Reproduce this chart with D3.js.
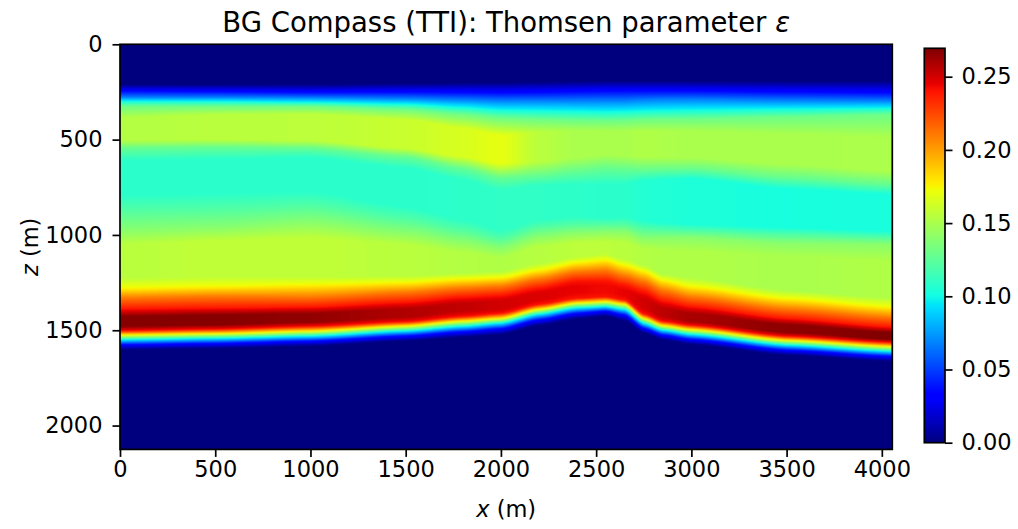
<!DOCTYPE html>
<html>
<head>
<meta charset="utf-8">
<script src="https://cdn.jsdelivr.net/npm/d3@7"></script>
<style>
  body { margin: 0; background: #fff; }
  svg { font-family: "DejaVu Sans", sans-serif; }
</style>
</head>
<body>
<svg id="chart" width="1018" height="529"></svg>
<script>
// colour range of the plot and the colorbar
var vmax = 0.2694;

// model extent (m)
var xExtent = [0, 4055];
var zExtent = [0, 2125];

var xTicks = [0, 500, 1000, 1500, 2000, 2500, 3000, 3500, 4000];
var zTicks = [0, 500, 1000, 1500, 2000];
var cbTicks = [0, 0.05, 0.10, 0.15, 0.20, 0.25];

// lateral positions (m) where the vertical profiles were read
var colX = [0, 500, 1000, 1500, 1800, 2000, 2200, 2400, 2550, 2650, 2750, 2850, 3000, 3500, 4055];

// depth (m) of each profile knot, one row per column of colX
// knots: seabed (0-4), upper band (5-6), cyan band (7-10), lower band (11-13), red layer (14-19), base (20-23)
var columnDepths = [
  [210, 245, 278, 297, 324, 385, 505, 545, 612, 787, 875, 980, 1050, 1225, 1280, 1330, 1390, 1428, 1480, 1503, 1525, 1550, 1576, 1602],
  [210, 248, 278, 298, 324, 370, 500, 540, 605, 780, 870, 965, 1030, 1220, 1272, 1322, 1385, 1420, 1472, 1495, 1518, 1543, 1569, 1595],
  [210, 252, 280, 303, 324, 367, 505, 545, 595, 770, 850, 935, 1015, 1220, 1262, 1325, 1380, 1412, 1458, 1480, 1505, 1531, 1557, 1583],
  [205, 250, 285, 312, 340, 395, 545, 590, 650, 850, 920, 990, 1050, 1215, 1250, 1300, 1355, 1388, 1432, 1456, 1478, 1504, 1530, 1556],
  [202, 252, 292, 328, 365, 440, 590, 650, 710, 920, 975, 1035, 1090, 1200, 1232, 1278, 1328, 1360, 1400, 1428, 1452, 1480, 1508, 1536],
  [200, 254, 297, 341, 385, 480, 625, 700, 765, 975, 1020, 1070, 1120, 1190, 1225, 1268, 1318, 1345, 1390, 1412, 1438, 1463, 1492, 1522],
  [197, 252, 297, 344, 392, 460, 615, 688, 740, 920, 960, 1010, 1060, 1150, 1185, 1230, 1280, 1305, 1340, 1365, 1390, 1416, 1445, 1475],
  [194, 248, 297, 347, 398, 452, 595, 665, 735, 905, 945, 990, 1040, 1115, 1145, 1192, 1242, 1268, 1303, 1333, 1357, 1383, 1411, 1440],
  [192, 245, 297, 350, 400, 455, 580, 650, 735, 910, 945, 985, 1035, 1100, 1132, 1185, 1242, 1266, 1300, 1325, 1350, 1376, 1400, 1426],
  [192, 245, 297, 348, 398, 455, 585, 655, 735, 905, 945, 985, 1040, 1128, 1160, 1213, 1265, 1290, 1318, 1342, 1364, 1391, 1420, 1450],
  [192, 245, 292, 345, 392, 455, 590, 660, 715, 925, 970, 1020, 1070, 1158, 1190, 1242, 1298, 1335, 1385, 1415, 1438, 1464, 1490, 1515],
  [192, 245, 290, 343, 391, 455, 593, 657, 710, 935, 975, 1017, 1078, 1205, 1238, 1290, 1348, 1385, 1430, 1454, 1476, 1500, 1525, 1550],
  [192, 245, 289, 341, 390, 455, 595, 655, 705, 945, 980, 1015, 1085, 1225, 1272, 1325, 1378, 1412, 1455, 1475, 1497, 1522, 1548, 1574],
  [192, 250, 295, 336, 380, 470, 630, 700, 760, 960, 1000, 1045, 1110, 1290, 1335, 1388, 1440, 1470, 1512, 1532, 1553, 1578, 1604, 1630],
  [192, 254, 297, 332, 367, 490, 665, 735, 787, 980, 1015, 1050, 1137, 1330, 1380, 1432, 1485, 1512, 1548, 1564, 1586, 1611, 1637, 1663]
];

// epsilon of the knots shared by all columns (null = taken from the band arrays)
var knotEps = [0, 0.035, 0.068, 0.098, 0.13, null, null, 0.128, null, null, 0.122, 0.14,
               null, null, 0.175, 0.21, 0.24, null, null, 0.24, 0.175, 0.098, 0.035, 0];

// epsilon of the bands, per column
var upperBandEps = [0.153, 0.155, 0.156, 0.160, 0.165, 0.170, 0.155, 0.150, 0.150, 0.150, 0.152, 0.151, 0.150, 0.150, 0.151];
var cyanBandEps  = [0.108, 0.108, 0.108, 0.108, 0.109, 0.110, 0.110, 0.109, 0.108, 0.108, 0.106, 0.105, 0.104, 0.102, 0.103];
var lowerBandEps = [0.155, 0.157, 0.157, 0.155, 0.153, 0.152, 0.154, 0.156, 0.156, 0.155, 0.153, 0.152, 0.152, 0.150, 0.152];
var peakEps      = [0.268, 0.268, 0.265, 0.258, 0.254, 0.250, 0.248, 0.245, 0.243, 0.245, 0.250, 0.255, 0.260, 0.266, 0.269];

var bandSlots = { 5: upperBandEps, 6: upperBandEps, 8: cyanBandEps, 9: cyanBandEps,
                  12: lowerBandEps, 13: lowerBandEps, 17: peakEps, 18: peakEps };

function columnEps(c) {
  return knotEps.map(function(v, k) {
    return v === null ? bandSlots[k][c] : v;
  });
}

// matplotlib "jet"
var jetT = [0, 0.11, 0.125, 0.34, 0.35, 0.375, 0.64, 0.65, 0.66, 0.89, 0.91, 1];
var jetC = ["#00007f", "#0000ff", "#0000ff", "#00dbff", "#00e5f7", "#14ffe2",
            "#eeff08", "#f7f500", "#ffec00", "#ff1300", "#e80000", "#7f0000"];
var color = d3.scaleLinear()
  .domain(jetT.map(function(t) { return t * vmax; }))
  .range(jetC)
  .interpolate(d3.interpolateRgb)
  .clamp(true);

var pL = 120, pT = 44.3, pR = 892.3, pB = 449.4;
var x = d3.scaleLinear().domain(xExtent).range([pL, pR]);
var y = d3.scaleLinear().domain(zExtent).range([pT, pB]);

var svg = d3.select("#chart");

// ---- heat map ----
var W = Math.round(pR - pL), H = Math.round(pB - pT);
var canvas = document.createElement("canvas");
canvas.width = W; canvas.height = H;
var ctx = canvas.getContext("2d");
var img = ctx.createImageData(W, H);

var lut = d3.range(512).map(function(i) { return d3.rgb(color(i / 511 * vmax)); });
var epsCols = colX.map(function(_, c) { return columnEps(c); });
var bisect = d3.bisector(function(d) { return d; }).right;

for (var px = 0; px < W; px++) {
  var xm = x.invert(pL + (px + 0.5) * (pR - pL) / W);
  var i = Math.min(Math.max(bisect(colX, xm) - 1, 0), colX.length - 2);
  var t = Math.min(Math.max((xm - colX[i]) / (colX[i + 1] - colX[i]), 0), 1);
  t = t * t * (3 - 2 * t) * 0.5 + t * 0.5; // soften the joins between columns
  var dep = columnDepths[i].map(function(d, k) { return d + (columnDepths[i + 1][k] - d) * t; });
  var ev = epsCols[i].map(function(e, k) { return e + (epsCols[i + 1][k] - e) * t; });
  for (var py = 0; py < H; py++) {
    var zm = y.invert(pT + (py + 0.5) * (pB - pT) / H);
    var e;
    if (zm <= dep[0]) e = ev[0];
    else if (zm >= dep[dep.length - 1]) e = ev[ev.length - 1];
    else {
      var k = bisect(dep, zm) - 1;
      var s = (zm - dep[k]) / (dep[k + 1] - dep[k]);
      e = ev[k] + (ev[k + 1] - ev[k]) * s;
    }
    var c = lut[Math.max(0, Math.min(511, Math.round(e / vmax * 511)))];
    var o = (py * W + px) * 4;
    img.data[o] = c.r; img.data[o + 1] = c.g; img.data[o + 2] = c.b; img.data[o + 3] = 255;
  }
}
ctx.putImageData(img, 0, 0);

svg.append("image")
  .attr("x", pL).attr("y", pT)
  .attr("width", pR - pL).attr("height", pB - pT)
  .attr("preserveAspectRatio", "none")
  .attr("href", canvas.toDataURL());

// ---- axes ----
var fs = 22.5;
var xAxis = svg.append("g")
  .attr("transform", "translate(0," + pB + ")")
  .call(d3.axisBottom(x).tickValues(xTicks).tickSize(7.5).tickPadding(4.5).tickFormat(d3.format("d")));
var yAxis = svg.append("g")
  .attr("transform", "translate(" + pL + ",0)")
  .call(d3.axisLeft(y).tickValues(zTicks).tickSize(7.5).tickPadding(10).tickFormat(d3.format("d")));

[xAxis, yAxis].forEach(function(g) {
  g.select(".domain").remove();
  g.selectAll(".tick line").attr("stroke", "#000").attr("stroke-width", 1.7);
  g.selectAll(".tick text").attr("font-size", fs).attr("fill", "#000").attr("font-family", "DejaVu Sans");
});

svg.append("rect")
  .attr("x", pL).attr("y", pT)
  .attr("width", pR - pL).attr("height", pB - pT)
  .attr("fill", "none").attr("stroke", "#000").attr("stroke-width", 1.7);

// title
var title = svg.append("text")
  .attr("x", (pL + pR) / 2).attr("y", 32)
  .attr("text-anchor", "middle").attr("font-size", 27.5).attr("fill", "#000");
title.append("tspan").text("BG Compass (TTI): Thomsen parameter ");
title.append("tspan").attr("font-style", "italic").text("ε");

// axis labels
var xl = svg.append("text")
  .attr("x", (pL + pR) / 2).attr("y", 517)
  .attr("text-anchor", "middle").attr("font-size", fs);
xl.append("tspan").attr("font-style", "italic").text("x");
xl.append("tspan").text(" (m)");

var zl = svg.append("text")
  .attr("transform", "translate(37.5," + ((pT + pB) / 2) + ") rotate(-90)")
  .attr("text-anchor", "middle").attr("font-size", fs);
zl.append("tspan").attr("font-style", "italic").text("z");
zl.append("tspan").text(" (m)");

// ---- colorbar ----
var cbL = 924.3, cbR = 945, cbT = 48.3, cbB = 442.7;
var cy = d3.scaleLinear().domain([0, vmax]).range([cbB, cbT]);

var grad = svg.append("defs").append("linearGradient")
  .attr("id", "cbgrad").attr("x1", 0).attr("y1", 1).attr("x2", 0).attr("y2", 0);
grad.selectAll("stop")
  .data(d3.range(257))
  .enter().append("stop")
  .attr("offset", function(d) { return d / 256; })
  .attr("stop-color", function(d) { return color(d / 256 * vmax); });

svg.append("rect")
  .attr("x", cbL).attr("y", cbT)
  .attr("width", cbR - cbL).attr("height", cbB - cbT)
  .attr("fill", "url(#cbgrad)")
  .attr("stroke", "#000").attr("stroke-width", 1.7);

var cAxis = svg.append("g")
  .attr("transform", "translate(" + cbR + ",0)")
  .call(d3.axisRight(cy).tickValues(cbTicks).tickSize(7.5).tickPadding(9).tickFormat(d3.format(".2f")));
cAxis.select(".domain").remove();
cAxis.selectAll(".tick line").attr("stroke", "#000").attr("stroke-width", 1.7);
cAxis.selectAll(".tick text").attr("font-size", fs).attr("fill", "#000").attr("font-family", "DejaVu Sans");
</script>
</body>
</html>
